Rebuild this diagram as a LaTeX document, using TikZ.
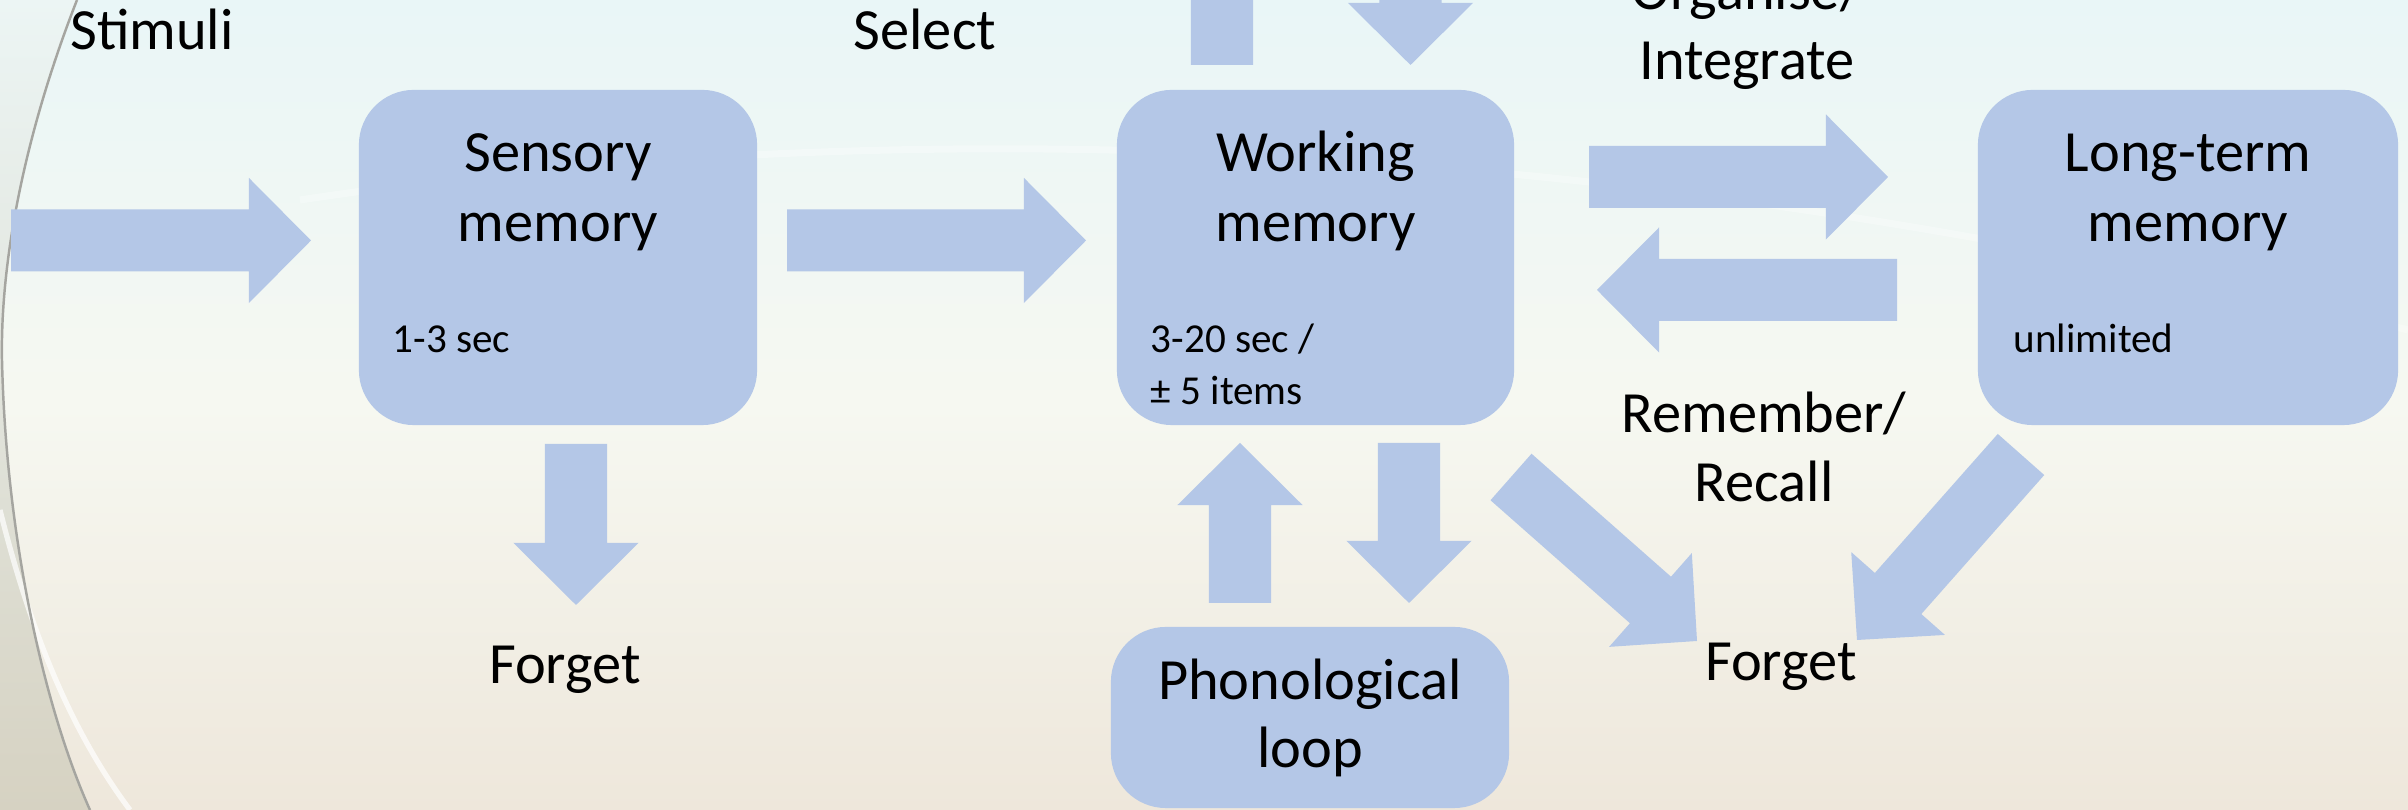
\documentclass[tikz,border=0pt]{standalone}
\usepackage{fontspec}
\setmainfont{Carlito}
\usetikzlibrary{calc}
\definecolor{boxblue}{RGB}{180,199,231}
\definecolor{bgtop}{RGB}{233,246,247}
\definecolor{bgmid}{RGB}{246,248,241}
\definecolor{bgbot}{RGB}{238,231,219}
\definecolor{edgetop}{RGB}{236,245,244}
\definecolor{edgebot}{RGB}{214,210,194}
\definecolor{arcline}{RGB}{165,165,160}
% block arrow from named tail coordinate #1 to named tip coordinate #2
\newcommand\blockarr[2]{%
  \coordinate (hb) at ($(#2)!0.62cm!(#1)$);
  \fill[arrfill] ($(#1)!0.31cm!90:(#2)$) -- ($(hb)!0.31cm!90:(#2)$) -- ($(hb)!0.625cm!90:(#2)$) -- (#2)
    -- ($(hb)!0.625cm!-90:(#2)$) -- ($(hb)!0.31cm!-90:(#2)$) -- ($(#1)!0.31cm!-90:(#2)$) -- cycle;}
\begin{document}
\begin{tikzpicture}[x=0.01cm,y=0.01cm,
  membox/.style={fill=boxblue, rounded corners=0.55cm, inner sep=0pt},
  bigtxt/.style={font=\fontsize{16.6}{20}\selectfont, inner sep=0pt, anchor=base},
  smalltxt/.style={font=\fontsize{11.7}{14}\selectfont, inner sep=0pt, anchor=base west},
  arrfill/.style={fill=boxblue}]
\useasboundingbox (0,0) rectangle (2408,810);
\clip (0,0) rectangle (2408,810);
% background
\shade[top color=bgtop, bottom color=bgbot, middle color=bgmid] (0,0) rectangle (2408,810);
\shade[top color=edgetop, bottom color=edgebot]
  (0,810) -- (77,810) .. controls (30,690) and (0,560) .. (2,450)
  .. controls (6,270) and (45,100) .. (90,0) -- (0,0) -- cycle;
\draw[white, opacity=0.7, line width=1.5pt] (0,300) .. controls (30,180) and (70,80) .. (130,0);
\draw[arcline, line width=0.7pt] (77,810) .. controls (30,690) and (0,560) .. (2,450)
  .. controls (6,270) and (45,100) .. (90,0);
\draw[white, opacity=0.3, line width=2pt] (300,610) .. controls (900,700) and (1600,680) .. (2408,480);

% boxes
\node[membox, minimum width=3.98cm, minimum height=3.35cm] (sens) at (558,552.5) {};
\node[membox, minimum width=3.97cm, minimum height=3.35cm] (work) at (1315.5,552.5) {};
\node[membox, minimum width=4.20cm, minimum height=3.35cm] (ltm) at (2188,552.5) {};
\node[membox, minimum width=3.98cm, minimum height=1.81cm] (phon) at (1310,92.5) {};

% box texts
\node[bigtxt] (sens1) at (558,638) {Sensory};
\node[bigtxt] (sens2) at (558,568) {memory};
\node[bigtxt] (work1) at (1315.5,638) {Working};
\node[bigtxt] (work2) at (1315.5,568) {memory};
\node[bigtxt] (ltm1) at (2188,638) {Long-term};
\node[bigtxt] (ltm2) at (2188,568) {memory};
\node[bigtxt] (phon1) at (1310,110) {Phonological};
\node[bigtxt] (phon2) at (1310,42) {loop};
\node[smalltxt] (senst) at (392,457) {1-3 sec};
\node[smalltxt] (workt1) at (1150,457) {3-20 sec /};
\node[smalltxt] (workt2) at (1150,405) {± 5 items};
\node[smalltxt] (ltmt) at (2013,457) {unlimited};

% free labels
\node[bigtxt] (stim) at (152,760) {Stimuli};
\node[bigtxt] (sel) at (925,760) {Select};
\node[bigtxt] (org1) at (1747,800) {Organise/};
\node[bigtxt] (org2) at (1747,730) {Integrate};
\node[bigtxt] (rem1) at (1764,377) {Remember/};
\node[bigtxt] (rem2) at (1764,308) {Recall};
\node[bigtxt] (forg1) at (565,126) {Forget};
\node[bigtxt] (forg2) at (1781,129) {Forget};

% arrow end points
\coordinate (a1t) at (11,569.5);   \coordinate (a1p) at (311,569.5);
\coordinate (a2t) at (787,569.5);  \coordinate (a2p) at (1086,569.5);
\coordinate (a3t) at (1589,633);   \coordinate (a3p) at (1888,633);
\coordinate (a4t) at (1897,520);   \coordinate (a4p) at (1597,520);
\coordinate (a5t) at (576,366);    \coordinate (a5p) at (576,205);
\coordinate (a6t) at (1409,367);   \coordinate (a6p) at (1409,207);
\coordinate (a7t) at (1240,207);   \coordinate (a7p) at (1240,367);
\coordinate (a8t) at (1222,745);   \coordinate (a8p) at (1222,905);
\coordinate (a9t) at (1410.5,905); \coordinate (a9p) at (1410.5,745);
\coordinate (a10t) at (1511,333);  \coordinate (a10p) at (1697,169);
\coordinate (a11t) at (2021,355.5);\coordinate (a11p) at (1857,170);

\blockarr{a1t}{a1p}
\blockarr{a2t}{a2p}
\blockarr{a3t}{a3p}
\blockarr{a4t}{a4p}
\blockarr{a5t}{a5p}
\blockarr{a6t}{a6p}
\blockarr{a7t}{a7p}
\blockarr{a8t}{a8p}
\blockarr{a9t}{a9p}
\blockarr{a10t}{a10p}
\blockarr{a11t}{a11p}
\end{tikzpicture}
\end{document}
